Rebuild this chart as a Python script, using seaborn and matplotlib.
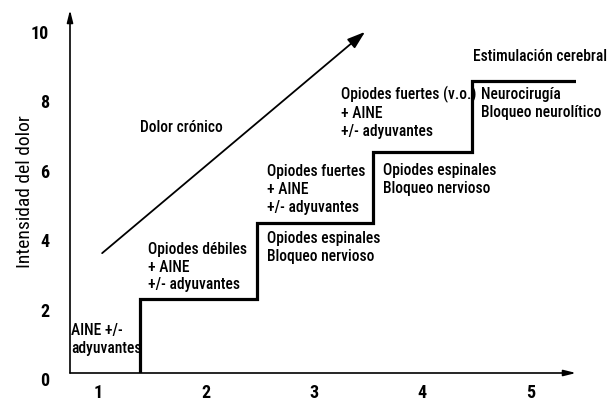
import matplotlib
matplotlib.use("Agg")
import matplotlib.pyplot as plt
import matplotlib.transforms as mtransforms
from matplotlib import font_manager
import seaborn as sns
import pandas as pd

# ---- data ----
stage_labels = ["1", "2", "3", "4", "5"]
stage_values = [1, 2, 3, 4, 5]
y_ticks = [0, 2, 4, 6, 8, 10]

# staircase: x where each step starts (stage units) and its intensity level
step_x = [1.39, 2.47, 3.54, 4.46, 5.42]
step_y = [0.0, 2.13, 4.31, 6.35, 8.42]

# diagonal "chronic pain" arrow (start, end)
pain_x = [1.04, 3.47]
pain_y = [3.45, 9.82]

treatments = [
    "AINE +/-\nadyuvantes",
    "Opiodes débiles\n+ AINE\n+/- adyuvantes",
    "Opiodes fuertes\n+ AINE\n+/- adyuvantes",
    "Opiodes espinales\nBloqueo nervioso",
    "Opiodes fuertes (v.o.)\n+ AINE\n+/- adyuvantes",
    "Opiodes espinales\nBloqueo nervioso",
    "Neurocirugía\nBloqueo neurolítico",
    "Estimulación cerebral",
    "Dolor crónico",
]
label_pos = [
    (0.75, 0.96), (1.46, 3.05), (2.56, 5.28), (2.56, 3.61),
    (3.25, 7.49), (3.64, 5.56), (4.54, 7.77), (4.47, 9.10), (1.39, 7.08),
]

# ---- style ----
sns.set_theme(style="white")
available = {f.name for f in font_manager.fontManager.ttflist}
family = "Liberation Sans"
for cand in ["Roboto Condensed", "Liberation Sans Narrow", "DejaVu Sans Condensed", "Roboto"]:
    if cand in available:
        family = cand
        break
plt.rcParams["font.family"] = [family, "DejaVu Sans"]
text_weight = "medium" if family.startswith("Roboto") else "normal"

fig = plt.figure(figsize=(6.16, 4.07), dpi=100)
renderer = fig.canvas.get_renderer()


def fit_size(s, target_px, weight="normal"):
    t = fig.text(0, 0, s, fontsize=10, weight=weight)
    w = t.get_window_extent(renderer).width
    t.remove()
    return 10 * target_px / w


ann_size = min(fit_size("Estimulación cerebral", 133, text_weight), 12.0)
t = fig.text(0, 0, "lp", fontsize=ann_size, weight=text_weight)
lp_h = t.get_window_extent(renderer).height
t.remove()
ann_ls = 18.6 / lp_h

tick_size = min(fit_size("10", 19, "bold"), 13.0)
ylab_size = min(fit_size("Intensidad del dolor", 163), 14.0)

ax = fig.add_axes([70 / 616, 1 - 373 / 407, 506 / 616, 363 / 407])
ax.set_xlim(0.743, 5.42)
ax.set_ylim(0, 10.45)

df = pd.DataFrame({"x": step_x, "y": step_y})
sns.lineplot(data=df, x="x", y="y", sort=False, estimator=None, ax=ax,
             color="black", linewidth=2.3, drawstyle="steps-pre",
             solid_joinstyle="miter", solid_capstyle="butt")

ax.annotate("", xy=(pain_x[1], pain_y[1]), xytext=(pain_x[0], pain_y[0]),
            xycoords="data", textcoords="data",
            arrowprops=dict(arrowstyle="-|>,head_length=0.9,head_width=0.3",
                            color="black", lw=1.3, shrinkA=0, shrinkB=0))

# axes as arrows
for s in ax.spines.values():
    s.set_visible(False)
ax.annotate("", xy=(0, 1), xytext=(0, 0), xycoords="axes fraction",
            arrowprops=dict(arrowstyle="-|>,head_length=0.6,head_width=0.15",
                            color="black", lw=1.2, shrinkA=0, shrinkB=0))
ax.annotate("", xy=(1, 0), xytext=(0, 0), xycoords="axes fraction",
            arrowprops=dict(arrowstyle="-|>,head_length=0.6,head_width=0.15",
                            color="black", lw=1.2, shrinkA=0, shrinkB=0))

for txt, (x, y) in zip(treatments, label_pos):
    ax.text(x, y, txt, ha="left", va="center", fontsize=ann_size,
            linespacing=ann_ls, color="black", fontweight=text_weight)

ax.set_xticks(stage_values)
ax.set_xticklabels(stage_labels, fontsize=tick_size, fontweight="bold")
ax.set_yticks(y_ticks)
ax.set_yticklabels([str(v) for v in y_ticks], fontsize=tick_size, fontweight="bold")
ax.tick_params(axis="both", length=0, colors="black")
ax.tick_params(axis="x", pad=8)
ax.tick_params(axis="y", pad=15)
off = mtransforms.ScaledTranslation(0, -6 / 100, fig.dpi_scale_trans)
for lab in ax.get_yticklabels():
    lab.set_transform(lab.get_transform() + off)

ax.set_ylabel("Intensidad del dolor", fontsize=ylab_size, color="black")
ax.yaxis.set_label_coords(-0.072, 0.50)
ax.set_xlabel("")

fig.savefig("out.png", dpi=100, facecolor="white")
